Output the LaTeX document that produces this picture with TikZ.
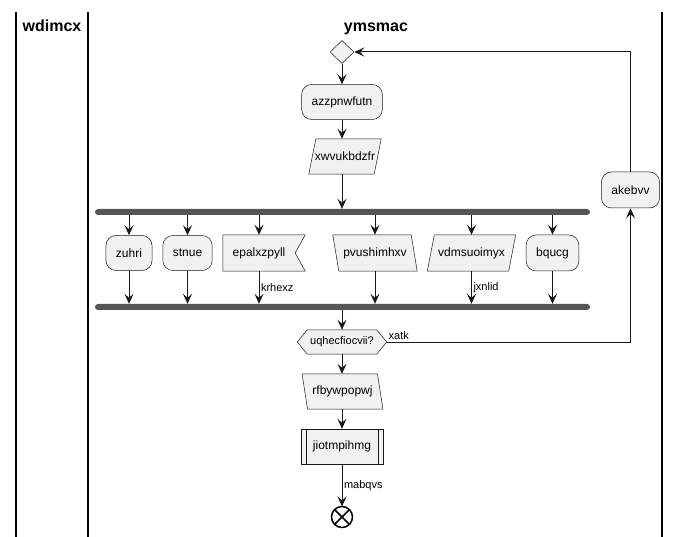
\documentclass[tikz,border=0pt]{standalone}
\usepackage{fontspec}
\setmainfont{Liberation Sans}
\usetikzlibrary{arrows.meta,shapes.geometric,backgrounds}
\definecolor{boxfill}{HTML}{F1F1F1}
\definecolor{boxline}{HTML}{181818}
\definecolor{barfill}{HTML}{555555}
\tikzset{
 every node/.style={font=\fontsize{12}{14}\selectfont},
 rbox/.style={rectangle, rounded corners=10pt, draw=boxline, line width=0.5pt, fill=boxfill, minimum height=35pt, inner xsep=10pt, inner ysep=0pt},
 pbox/.style={rectangle, minimum height=35pt, inner sep=0pt},
 shp/.style={draw=boxline, line width=0.5pt, fill=boxfill},
 arr/.style={draw=boxline, line width=1pt, -{Stealth[length=10pt,width=9pt,inset=4pt]}},
 barn/.style={rectangle, rounded corners=3pt, fill=barfill, minimum width=495pt, minimum height=6pt, inner sep=0pt},
 lane/.style={line width=1.5pt},
 lanetitle/.style={font=\fontsize{16}{19}\selectfont\bfseries, anchor=base},
 lbl/.style={font=\fontsize{11}{13}\selectfont, inner sep=1.5pt},
}
\begin{document}
\begin{tikzpicture}[x=1pt,y=-1pt]
\useasboundingbox (0,0) rectangle (680,537);
% lanes
\draw[lane] (16,12) -- (16,537);
\draw[lane] (88,12) -- (88,537);
\draw[lane] (662,12) -- (662,537);
\node[lanetitle] (t1) at (52,31.5) {wdimcx};
\node[lanetitle] (t2) at (376,31.5) {ymsmac};
% nodes
\node[diamond, draw=boxline, line width=0.5pt, fill=boxfill, minimum width=24pt, minimum height=23pt, inner sep=0pt] (d1) at (342,52) {};
\node[rbox] (az) at (342,102) {azzpnwfutn};
\node[pbox, minimum width=65pt] (xw) at (345,156.5) {xwvukbdzfr};
\node[barn] (fork) at (342.5,212) {};
\node[rbox] (zu) at (129,253) {zuhri};
\node[rbox] (st) at (187.5,253) {stnue};
\node[pbox, minimum width=72pt, minimum height=36pt] (ep) at (259,253) {epalxzpyll};
\node[pbox, minimum width=78pt, minimum height=36pt] (pv) at (375,253) {pvushimhxv};
\node[pbox, minimum width=81pt, minimum height=36pt] (vd) at (471.5,253) {vdmsuoimyx};
\node[rbox, minimum height=36pt] (bq) at (552.5,253) {bqucg};
\node[barn] (join) at (342.5,307) {};
\node[pbox, minimum width=69pt, minimum height=24pt, font=\fontsize{11}{13}\selectfont] (hx) at (342,342) {uqhecfiocvii?};
\coordinate (hxr) at ([xshift=10pt]hx.east);
\node[rbox, minimum height=36pt] (ak) at (630.5,190) {akebvv};
\node[pbox, minimum width=75pt] (rf) at (342.5,391.5) {rfbywpopwj};
\node[pbox, minimum width=82pt] (ji) at (342,446.5) {jiotmpihmg};
\node[circle, draw=black, line width=1.5pt, minimum size=21pt, inner sep=0pt, outer sep=0pt] (end) at (342,517) {};
\draw[line width=1.5pt] (end.45) -- (end.225) (end.135) -- (end.315);
% shapes behind text
\begin{scope}[on background layer]
 \draw[shp] ([xshift=-3.5pt]xw.south west) -- ([xshift=-3.5pt]xw.south east) -- ([xshift=3.5pt]xw.north east) -- ([xshift=3.5pt]xw.north west) -- cycle;
 \draw[shp] (ep.north west) -- ([xshift=10pt]ep.north east) -- (ep.east) -- ([xshift=10pt]ep.south east) -- (ep.south west) -- cycle;
 \draw[shp] ([xshift=3pt]pv.south west) -- ([xshift=3pt]pv.south east) -- ([xshift=-3pt]pv.north east) -- ([xshift=-3pt]pv.north west) -- cycle;
 \draw[shp] ([xshift=-3.5pt]vd.south west) -- ([xshift=-3.5pt]vd.south east) -- ([xshift=3.5pt]vd.north east) -- ([xshift=3.5pt]vd.north west) -- cycle;
 \draw[shp] (hx.north west) -- (hx.north east) -- (hxr) -- (hx.south east) -- (hx.south west) -- ([xshift=-10pt]hx.west) -- cycle;
 \draw[shp] ([xshift=2.75pt]rf.south west) -- ([xshift=2.75pt]rf.south east) -- ([xshift=-2.75pt]rf.north east) -- ([xshift=-2.75pt]rf.north west) -- cycle;
 \draw[shp] (ji.south west) rectangle (ji.north east);
 \draw[draw=boxline, line width=0.5pt] ([xshift=5pt]ji.north west) -- ([xshift=5pt]ji.south west) ([xshift=-5pt]ji.north east) -- ([xshift=-5pt]ji.south east);
\end{scope}
% connectors
\draw[arr] (d1.south) -- (az.north);
\draw[arr] (az.south) -- (az.south |- xw.north);
\draw[arr] (az.south |- xw.south) -- (az.south |- fork.north);
\foreach \n in {zu,st,ep,pv,vd,bq} { \draw[arr] (fork.south -| \n.north) -- (\n.north); }
\draw[arr] (zu.south) -- (zu.south |- join.north);
\draw[arr] (st.south) -- (st.south |- join.north);
\draw[arr] (ep.south) -- (ep.south |- join.north) node[lbl, midway, right] {krhexz};
\draw[arr] (pv.south) -- (pv.south |- join.north);
\draw[arr] (vd.south) -- (vd.south |- join.north) node[lbl, midway, right] {jxnlid};
\draw[arr] (bq.south) -- (bq.south |- join.north);
\draw[arr] (join.south -| hx.north) -- (hx.north);
\draw[arr] (hxr) -| (ak.south) node[lbl, pos=0, anchor=south west] {xatk};
\draw[arr] (ak.north) |- (d1.east);
\draw[arr] (hx.south) -- (hx.south |- rf.north);
\draw[arr] (hx.south |- rf.south) -- (ji.north);
\draw[arr] (ji.south) -- (end.north) node[lbl, midway, right] {mabqvs};
\end{tikzpicture}
\end{document}
